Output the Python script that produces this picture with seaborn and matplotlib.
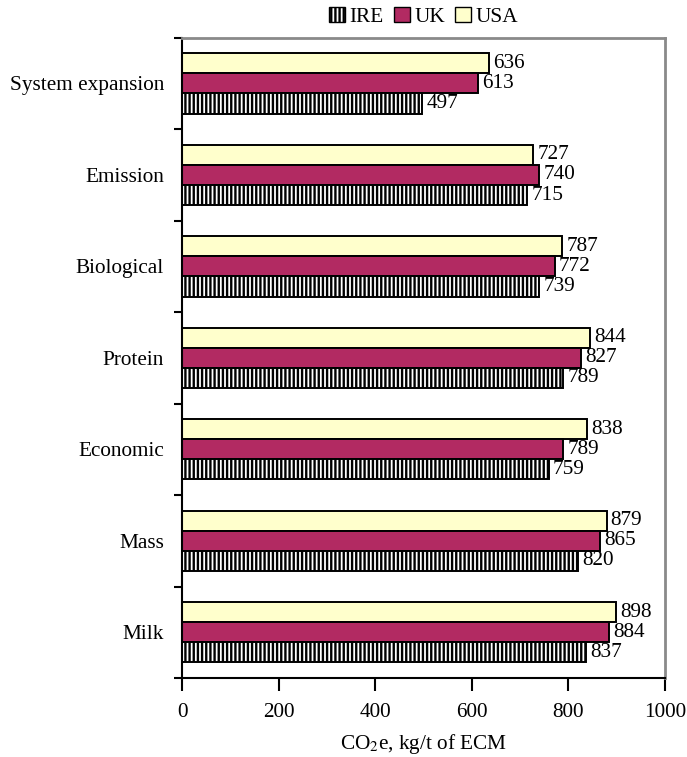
import numpy as np
import pandas as pd
import matplotlib
matplotlib.use("Agg")
from matplotlib import pyplot as plt
from matplotlib.patches import Patch
import seaborn as sns

categories = ["System expansion", "Emission", "Biological", "Protein", "Economic", "Mass", "Milk"]
ire = [497, 715, 739, 789, 759, 820, 837]
uk = [613, 740, 772, 827, 789, 865, 884]
usa = [636, 727, 787, 844, 838, 879, 898]
x_ticks = [0, 200, 400, 600, 800, 1000]

colors = {"USA": "#FFFFCC", "UK": "#B22A62", "IRE": "#FFFFFF"}
hue_order = ["USA", "UK", "IRE"]

df = pd.DataFrame({
    "method": categories * 3,
    "country": ["IRE"] * 7 + ["UK"] * 7 + ["USA"] * 7,
    "value": ire + uk + usa,
})

sns.set_style("ticks")
plt.rcParams["font.family"] = ["Liberation Serif", "DejaVu Serif"]
plt.rcParams["mathtext.fontset"] = "stix"
plt.rcParams["hatch.linewidth"] = 1.7
plt.rcParams["hatch.color"] = "black"
plt.rcParams["text.color"] = "black"
plt.rcParams["xtick.color"] = "black"
plt.rcParams["ytick.color"] = "black"
plt.rcParams["axes.labelcolor"] = "black"

fs = 15.3

fig = plt.figure(figsize=(6.87, 7.57), dpi=100)
ax = fig.add_axes([0.265, 0.1044, 0.703, 0.8458])

sns.barplot(
    data=df, x="value", y="method", hue="country",
    order=categories, hue_order=hue_order,
    palette=colors, orient="h", width=0.66,
    edgecolor="black", linewidth=1.4, saturation=1, ax=ax, legend=False,
)

# containers follow hue_order; the last one is IRE and gets the vertical hatch
for name, cont in zip(hue_order, ax.containers):
    if name == "IRE":
        for b in cont:
            b.set_hatch("||||")
            b.set_edgecolor("black")
    ax.bar_label(cont, padding=3, fontsize=fs)

ax.set_xlim(0, 1000)
ax.set_xticks(x_ticks)
ax.set_ylim(6.5, -0.5)
ax.set_yticks(np.arange(-0.5, 7.0, 1.0), minor=True)
ax.tick_params(axis="y", which="major", length=0, labelsize=fs, pad=13)
ax.tick_params(axis="y", which="minor", length=6, width=1.5)
ax.tick_params(axis="x", which="major", length=9, width=1.5, labelsize=fs, pad=9)
ax.set_xlabel(r"CO$_2$e, kg/t of ECM", fontsize=fs, labelpad=7)
ax.set_ylabel("")

for s in ["left", "bottom"]:
    ax.spines[s].set_color("black")
    ax.spines[s].set_linewidth(1.5)
for s in ["top", "right"]:
    ax.spines[s].set_color("#8a8a8a")
    ax.spines[s].set_linewidth(2)

handles = [
    Patch(facecolor="white", edgecolor="black", hatch="||||", label="IRE"),
    Patch(facecolor=colors["UK"], edgecolor="black", label="UK"),
    Patch(facecolor=colors["USA"], edgecolor="black", label="USA"),
]
ax.legend(handles=handles, loc="lower center", bbox_to_anchor=(0.5, 1.0), ncol=3,
          frameon=False, fontsize=fs, handlelength=0.75, handleheight=0.75,
          handletextpad=0.2, columnspacing=0.5, borderaxespad=0.1)

fig.savefig("out.png", dpi=100)
